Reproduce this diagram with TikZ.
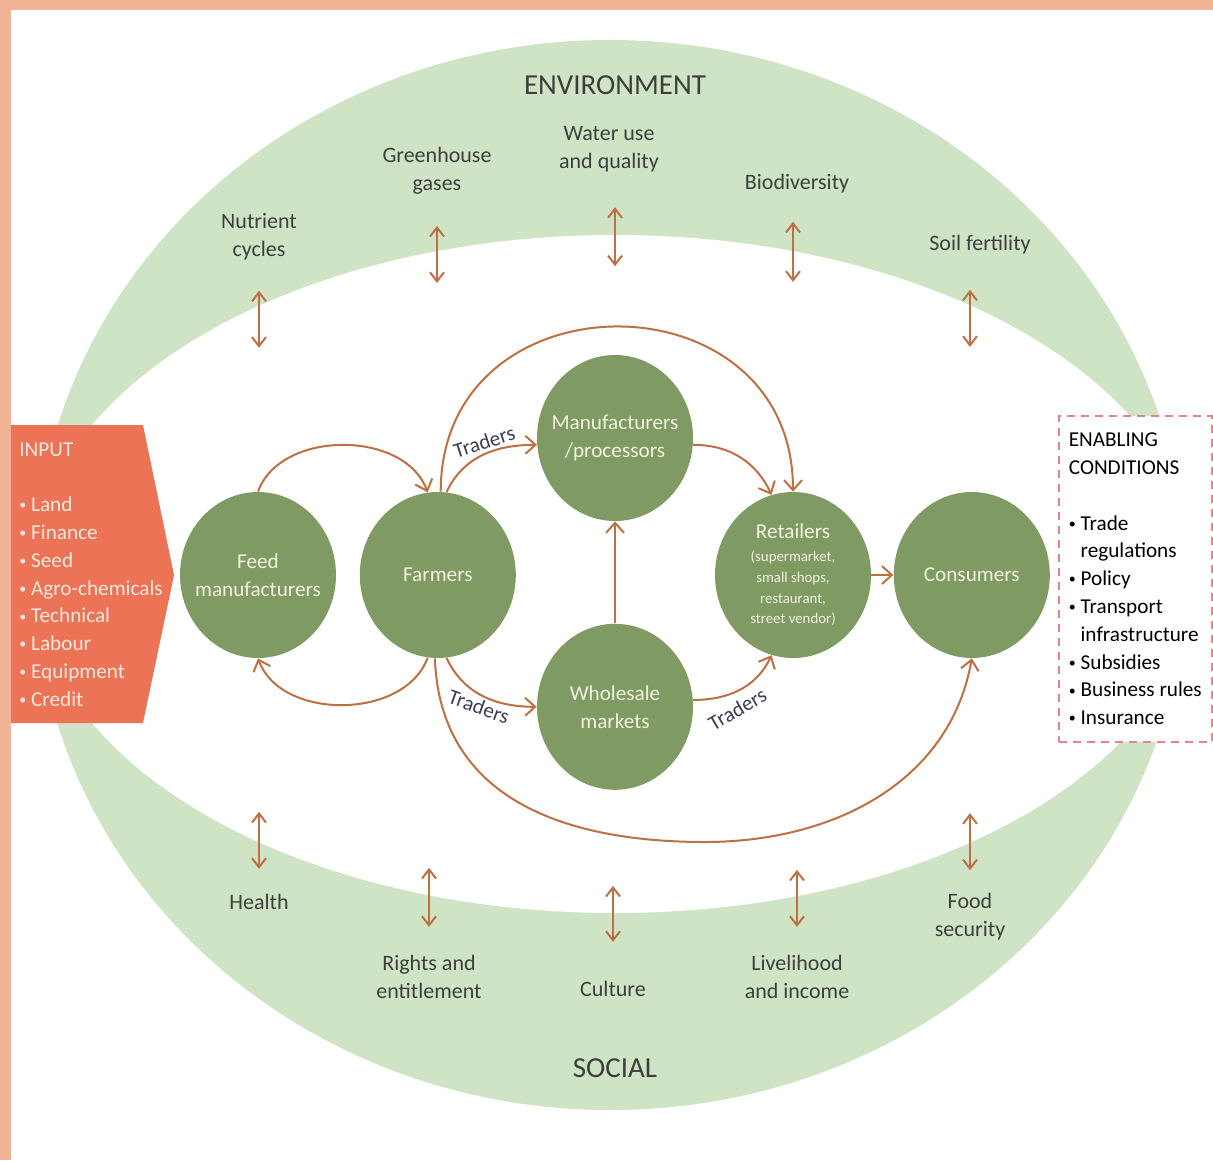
\documentclass[tikz,border=0pt]{standalone}
\usepackage{fontspec}
\setmainfont{Carlito}
\usetikzlibrary{positioning}
\usetikzlibrary{calc}
\usetikzlibrary{arrows.meta}
\usetikzlibrary{shapes.geometric}
\definecolor{ringgreen}{RGB}{207,228,196}
\definecolor{actorgreen}{RGB}{127,154,99}
\definecolor{actortext}{RGB}{243,243,224}
\definecolor{flowbrown}{RGB}{192,111,66}
\definecolor{inputred}{RGB}{237,115,87}
\definecolor{inputtext}{RGB}{252,232,222}
\definecolor{framepeach}{RGB}{240,179,148}
\definecolor{dashpink}{RGB}{228,132,144}
\definecolor{labelgrey}{RGB}{62,62,62}
\definecolor{traderblue}{RGB}{60,62,84}
\newcommand\retailfont{\fontsize{7.4}{9}\selectfont}
\newcommand\dotitem{\raisebox{0.9pt}{\fontsize{7}{7}\selectfont •}\ }
\tikzset{%
  flow/.style = {-{Straight Barb[length=5pt,width=9pt]},draw=flowbrown,
        line width=1pt},
  twoway/.style = {{Straight Barb[length=4.5pt,width=7pt]}-{Straight Barb[length=4.5pt,width=7pt]},
        draw=flowbrown,line width=1pt},
  actor/.style = {ellipse,fill=actorgreen,text=actortext,align=center,
        minimum width=78pt,minimum height=83pt,inner xsep=-14pt,inner ysep=0pt,
        font=\fontsize{10.6}{14}\selectfont},
  ringlabel/.style = {align=center,text=labelgrey,inner sep=0pt,
        font=\fontsize{11}{14}\selectfont},
  sphere/.style = {text=labelgrey,inner sep=0pt,
        font=\fontsize{14.5}{17}\selectfont},
  trader/.style = {text=traderblue,inner sep=1.5pt,
        font=\fontsize{10.6}{13}\selectfont},
  listtext/.style = {align=left,inner sep=0pt,
        font=\fontsize{10.6}{13.9}\selectfont}
}

\begin{document}
\begin{tikzpicture}[x=0.5pt,y=-0.5pt]
  \useasboundingbox (0,0) rectangle (1213,1160);
  % the two rings
  \begin{scope}
    \clip (0,0) rectangle (1213,1160);
    \fill[white] (0,0) rectangle (1213,1160);
    \fill[ringgreen] (610,575) ellipse [x radius=575,y radius=535];
    \fill[white] (615,574) ellipse [x radius=582,y radius=339];
  \end{scope}
  \fill[framepeach] (0,0) rectangle (1213,10);
  \fill[framepeach] (0,0) rectangle (11,1160);

  \node[sphere] (env) at (615,85) {ENVIRONMENT};
  \node[sphere] (soc) at (615,1068) {SOCIAL};

  % environment side
  \node[ringlabel] (nutr) at (259,237) {Nutrient\\cycles};
  \node[ringlabel] (ghg) at (437,171) {Greenhouse\\gases};
  \node[ringlabel] (water) at (609,149) {Water use\\and quality};
  \node[ringlabel] (bio) at (797,184) {Biodiversity};
  \node[ringlabel] (soil) at (980,245) {Soil fertility};
  \draw[twoway] ([yshift=-15pt]nutr.south) -- ++(0,57);
  \draw[twoway] ([yshift=-15.5pt]ghg.south) -- ++(0,57);
  \draw[twoway] ([xshift=3pt,yshift=-17.5pt]water.south) -- ++(0,59);
  \draw[twoway] ([xshift=-2pt,yshift=-14pt]bio.south) -- ++(0,60);
  \draw[twoway] ([xshift=-5pt,yshift=-17.5pt]soil.south) -- ++(0,57);

  % social side
  \node[ringlabel] (health) at (259,902) {Health};
  \node[ringlabel] (rights) at (429,977) {Rights and\\entitlement};
  \node[ringlabel] (culture) at (613,989) {Culture};
  \node[ringlabel] (live) at (797,977) {Livelihood\\and income};
  \node[ringlabel] (food) at (970,917) {Food\\security};
  \draw[twoway] ([yshift=12.5pt]health.north) -- ++(0,-57);
  \draw[twoway] ([yshift=14pt]rights.north) -- ++(0,-59);
  \draw[twoway] ([yshift=19.5pt]culture.north) -- ++(0,-56);
  \draw[twoway] ([yshift=14pt]live.north) -- ++(0,-57);
  \draw[twoway] ([yshift=11.5pt]food.north) -- ++(0,-57);

  % input and enabling conditions
  \fill[inputred] (11,425) -- (143,425) -- (174,575) -- (143,723) -- (11,723) -- cycle;
  \node[listtext,text=inputtext,anchor=north west] (input) at (19,442)
    {INPUT\\[13.9pt]\dotitem Land\\\dotitem Finance\\\dotitem Seed\\%
     \dotitem Agro-chemicals\\\dotitem Technical\\\dotitem Labour\\%
     \dotitem Equipment\\\dotitem Credit};
  \node[listtext,draw=dashpink,dashed,dash pattern=on 4pt off 3pt,line width=0.8pt,
        fill=white,minimum width=76.5pt,minimum height=163pt,anchor=north west]
    (enab) at (1058,415)
    {ENABLING\\CONDITIONS\\[13.9pt]\dotitem Trade\\\hphantom{\dotitem}regulations\\%
     \dotitem Policy\\\dotitem Transport\\\hphantom{\dotitem}infrastructure\\%
     \dotitem Subsidies\\\dotitem Business rules\\\dotitem Insurance};

  % actors
  \node[actor] (feed) at (258,575) {Feed\\manufacturers};
  \node[actor,right=11.5pt of feed] (farmers) {Farmers};
  \node[actor] (manu) at (615,438) {Manufacturers\\/processors};
  \node[actor,below=51pt of manu] (whole) {Wholesale\\markets};
  \node[actor] (retail) at (793,575) {Retailers\\[-2.5pt]%
    {\retailfont (supermarket,}\\[-3.7pt]{\retailfont small shops,}\\[-3.7pt]%
    {\retailfont restaurant,}\\[-3.7pt]{\retailfont street vendor)}};
  \node[actor,right=11pt of retail] (cons) {Consumers};

  % flows
  \draw[flow] (feed.north) to[out=70,in=110] (farmers.97);
  \draw[flow] (farmers.263) to[out=-110,in=-70] (feed.south);
  \draw[flow] (farmers.84) to[out=65,in=180]
    node[trader,rotate=18,above,pos=.55] {Traders} (manu.185);
  \draw[flow] (farmers.88) to[out=90,in=90,looseness=1.6] (retail.north);
  \draw[flow] (manu.-5) to[out=0,in=115] (retail.105);
  \draw[flow] (whole) -- (manu);
  \draw[flow] (farmers.-84) to[out=-65,in=180]
    node[trader,rotate=-20,below,pos=.5] {Traders} (whole.west);
  \draw[flow] (whole.5) to[out=0,in=-115]
    node[trader,rotate=30,below=3pt,pos=.4] {Traders} (retail.-105);
  \coordinate (dip) at (705,842);
  \draw[flow] (farmers.-92) to[out=-88,in=180,looseness=1.1] (dip)
    to[out=0,in=-100] (cons.south);
  \draw[flow] (retail) -- (cons);
\end{tikzpicture}
\end{document}
